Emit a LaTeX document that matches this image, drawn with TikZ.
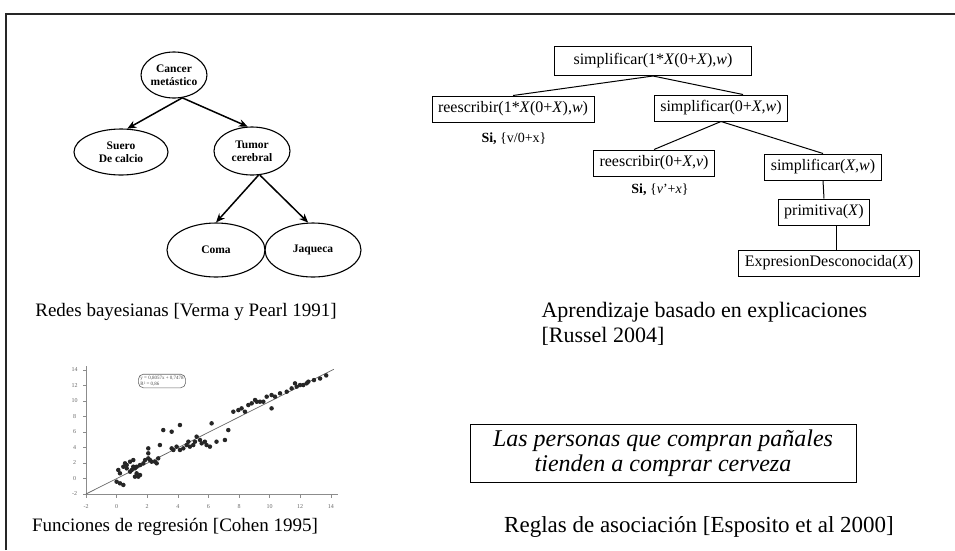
\documentclass[tikz,border=0pt]{standalone}
\usepackage{fontspec}
\setmainfont{Liberation Serif}
\usetikzlibrary{shapes.geometric,arrows.meta,calc}
\begin{document}
\begin{tikzpicture}[x=1pt,y=-1pt,
 bnode/.style={ellipse,draw,line width=1.1pt,inner sep=0pt,align=center,font=\fontsize{11.5}{13}\selectfont\bfseries},
 barrow/.style={line width=1.5pt,-{Stealth[length=9pt,width=7.5pt]}},
 tbox/.style={draw,line width=1pt,inner xsep=6pt,minimum height=26pt,font=\fontsize{16}{18}\selectfont},
 tline/.style={line width=1pt},
 tlabel/.style={font=\fontsize{14}{16}\selectfont},
 lcaption/.style={font=\fontsize{19}{24}\selectfont},
 pdot/.style={circle,fill=black!85,inner sep=0pt,minimum size=4.5pt},
 tick/.style={font=\fontsize{6}{7}\selectfont,text=black!60},
]
\useasboundingbox (0,0) rectangle (955,550);
% frame
\draw[line width=2pt,black!85] (6,550) -- (6,14) -- (955,14);

% ---------- Bayesian network ----------
\node[bnode,minimum width=60pt,minimum height=46pt] (cancer) at (174,75) {Cancer\\met\'astico};
\node[bnode,minimum width=94pt,minimum height=46pt] (suero) at (121,152) {Suero\\De calcio};
\node[bnode,minimum width=76pt,minimum height=48pt] (tumor) at (252,151) {Tumor\\cerebral};
\node[bnode,minimum width=98pt,minimum height=54pt] (coma) at (216,250) {Coma};
\node[bnode,minimum width=96pt,minimum height=54pt] (jaq) at (313,250) {Jaqueca};
\draw[barrow] (cancer.-70) -- (suero.75);
\draw[barrow] (cancer.-70) -- (tumor.100);
\draw[barrow] (tumor.-75) -- (coma.90);
\draw[barrow] (tumor.-72) -- (jaq.100);
\node[lcaption] (c1) at (186,312) {Redes bayesianas [Verma y Pearl 1991]};

% ---------- explanation tree ----------
\node[tbox,minimum width=197pt,minimum height=29pt] (t0) at (653,61) {simplificar(1*\textit{X}(0+\textit{X}),\textit{w})};
\node[tbox] (t1) at (513,109) {reescribir(1*\textit{X}(0+\textit{X}),\textit{w})};
\node[tbox] (t2) at (721,108) {simplificar(0+\textit{X},\textit{w})};
\node[tlabel] (s1) at (514,139) {\textbf{Si,} \{v/0+x\}};
\node[tbox] (t3) at (654,163) {reescribir(0+\textit{X},\textit{v})};
\node[tlabel] (s2) at (660,190) {\textbf{Si,} \{\textit{v}'+\textit{x}\}};
\node[tbox] (t4) at (823,167) {simplificar(\textit{X},\textit{w})};
\node[tbox] (t5) at (824,212) {primitiva(\textit{X})};
\node[tbox] (t6) at (829,263) {ExpresionDesconocida(\textit{X})};
\coordinate (t2in) at ($(t2.north)+(22,0)$);
\coordinate (t5out) at ($(t5.south)+(12,0)$);
\draw[tline] (t0.south) -- (t1.north);
\draw[tline] (t0.south) -- (t2in);
\draw[tline] (t2.south) -- (t3.north);
\draw[tline] (t2.south) -- (t4.north);
\draw[tline] (t4.south) -- (t5.north);
\draw[tline] (t5out) -- (t5out |- t6.north);
\node[font=\fontsize{22}{25}\selectfont,align=left,anchor=west] (c2) at (538,324) {Aprendizaje basado en explicaciones\\{}[Russel 2004]};

% ---------- regression plot ----------
\begin{scope}[shift={(116.6,478.5)},xscale=15.3,yscale=-7.75]
 \draw[black!45,line width=0.6pt] (-2,-2) -- (14.5,-2);
 \draw[black!45,line width=0.6pt] (-2,-2) -- (-2,14.5);
 \foreach \v in {-2,0,...,14} {
   \draw[black!45,line width=0.5pt] (\v,-2) -- (\v,-2.5);
   \node[tick] at (\v,-3.6) {\v};
   \draw[black!45,line width=0.5pt] (-2,\v) -- (-2.2,\v);
   \node[tick] at (-2.75,\v) {\v};
 }
 \draw[black!60,line width=0.7pt] (-2,-2) -- (14.2,14.1);
 \foreach \p in {(0.0,-0.41),(0.22,0.67),(0.11,1.10),(0.44,1.52),(0.55,1.96),(0.66,1.31),(0.88,0.88),(0.99,1.10),(1.09,1.52),(1.2,0.24),(0.22,-0.62),(0.44,-0.83),(0.66,1.74),(0.88,2.17),(1.09,2.38),(1.2,1.31),(1.31,0.67),(1.42,0.24),(1.53,0.45),(1.31,1.52),(1.53,1.74),(1.75,1.96),(1.86,2.38),(2.07,2.6),(2.18,2.38),(2.29,2.17),(2.07,3.89),(2.07,3.25),(2.51,2.17),(2.62,1.96),(2.72,2.6),(2.83,4.32),(3.05,6.25),(3.6,6.04),(4.14,6.9),(3.6,3.89),(3.71,3.68),(3.92,4.11),(4.14,3.68),(4.36,3.89),(4.58,4.32),(4.69,4.75),(4.79,4.11),(5.01,4.32),(5.12,4.75),(5.23,5.4),(5.45,4.97),(5.56,4.54),(5.77,4.75),(5.88,4.32),(6.1,4.11),(6.21,7.12),(6.53,4.75),(7.08,4.97),(7.3,6.25),(7.63,8.62),(7.96,8.83),(8.17,9.05),(8.39,8.62),(8.61,9.48),(8.83,9.7),(9.05,10.13),(9.16,9.91),(9.37,9.91),(9.59,9.91),(9.81,10.56),(10.13,10.77),(10.13,9.05),(10.35,10.56),(10.68,10.99),(11.12,11.2),(11.44,11.63),(11.66,12.28),(11.77,11.85),(11.99,12.06),(12.2,12.06),(12.42,12.28),(12.53,12.49),(12.9,12.7),(13.3,12.9),(13.7,13.3)}
   \node[pdot] at \p {};
\end{scope}
\node[draw=black!60,rounded corners=5pt,line width=0.6pt,align=left,inner sep=2pt,font=\fontsize{5}{5.5}\selectfont,text=black!70] (leg) at (162,381) {y = 0,8057x + 0,7478\\R² = 0,86};
\node[lcaption] (c3) at (175,527) {Funciones de regresi\'on [Cohen 1995]};

% ---------- association rule ----------
\node[draw,line width=1pt,minimum width=386pt,minimum height=58pt,align=center,font=\fontsize{24}{25}\selectfont\itshape] (rule) at (663,453) {Las personas que compran pa\~nales\\tienden a comprar cerveza};
\node[font=\fontsize{23}{25}\selectfont] (c4) at (699,527) {Reglas de asociaci\'on [Esposito et al 2000]};
\end{tikzpicture}
\end{document}
